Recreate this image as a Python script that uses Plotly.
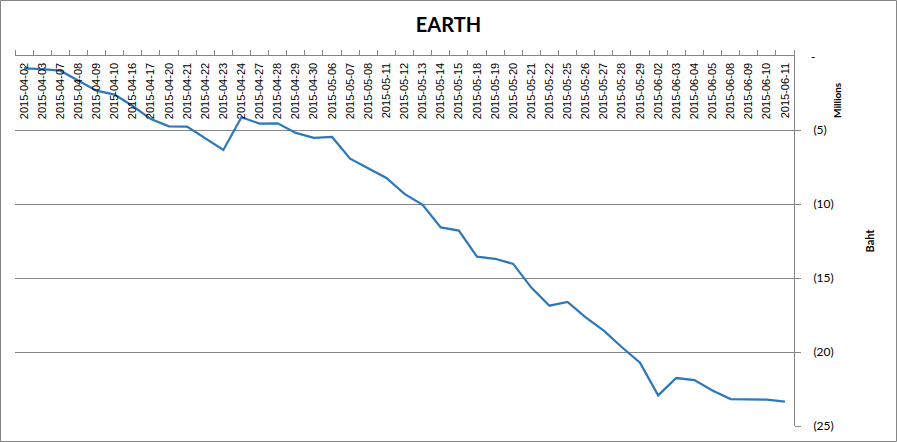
import plotly.graph_objects as go

dates = ["2015-04-02","2015-04-03","2015-04-07","2015-04-08","2015-04-09","2015-04-10",
         "2015-04-16","2015-04-17","2015-04-20","2015-04-21","2015-04-22","2015-04-23",
         "2015-04-24","2015-04-27","2015-04-28","2015-04-29","2015-04-30","2015-05-06",
         "2015-05-07","2015-05-08","2015-05-11","2015-05-12","2015-05-13","2015-05-14",
         "2015-05-15","2015-05-18","2015-05-19","2015-05-20","2015-05-21","2015-05-22",
         "2015-05-25","2015-05-26","2015-05-27","2015-05-28","2015-05-29","2015-06-02",
         "2015-06-03","2015-06-04","2015-06-05","2015-06-08","2015-06-09","2015-06-10",
         "2015-06-11"]
baht_millions = [-0.83,-0.88,-0.99,-1.69,-2.34,-2.61,-3.38,-4.26,-4.75,-4.77,-5.55,-6.35,
                 -4.14,-4.57,-4.55,-5.2,-5.53,-5.47,-6.94,-7.59,-8.24,-9.32,-10.05,-11.58,
                 -11.8,-13.56,-13.7,-14.05,-15.65,-16.87,-16.62,-17.66,-18.56,-19.68,-20.72,
                 -22.93,-21.76,-21.9,-22.6,-23.18,-23.22,-23.22,-23.36]
y_tick_vals = [0, -5, -10, -15, -20, -25]
y_tick_text = ["-", "(5)", "(10)", "(15)", "(20)", "(25)"]

W, H = 897, 442
L, R, T, B = 15, 794, 56, 426

fig = go.Figure(go.Scatter(x=dates, y=baht_millions, mode="lines",
                           line=dict(color="#2E78BA", width=2.25)))

def px(x):
    return (x - L) / (R - L)

def py(y):
    return (B - y) / (B - T)

tick_font = dict(family="Lato, Arial", size=12, color="black")

# The top tick label ("-") sits where plotly hides labels next to the inside
# category labels, so it is drawn as an annotation at the same data value.
fig.add_annotation(text=y_tick_text[0], xref="paper", yref="y", x=px(809), y=y_tick_vals[0],
                   xanchor="left", yanchor="middle", showarrow=False, font=tick_font)

fig.update_layout(
    width=W, height=H,
    margin=dict(l=L, r=W - R, t=T, b=H - B, autoexpand=False),
    paper_bgcolor="white", plot_bgcolor="white",
    showlegend=False,
    title=dict(text="<b>EARTH</b>", x=0.5, xanchor="center", y=1 - 25 / H, yanchor="middle",
               font=dict(family="Lato, Arial", size=20, color="black")),
    xaxis=dict(type="category", side="top", range=[-0.5, len(dates) - 0.5],
               tickangle=-90, ticklabelposition="inside", automargin=False,
               tickfont=dict(family="Liberation Sans, Arial", size=11, color="black"),
               ticks="outside", ticklen=5, tickcolor="#868686", tickson="boundaries",
               showline=True, linecolor="#868686", linewidth=1,
               showgrid=False, zeroline=False),
    yaxis=dict(side="right", range=[-25, 0.0001], automargin=False,
               tickvals=y_tick_vals, ticktext=[""] + y_tick_text[1:],
               tickfont=tick_font, ticklabelstandoff=10, ticklabelposition="outside",
               ticks="outside", ticklen=6, tickcolor="#868686",
               showline=True, linecolor="#868686", linewidth=1,
               showgrid=True, gridcolor="#868686", gridwidth=1, zeroline=False,
               title=dict(text="<b>Baht</b>", standoff=33,
                          font=dict(family="Lato, Arial", size=11, color="black"))),
    shapes=[dict(type="rect", xref="paper", yref="paper",
                 x0=px(0.5), x1=px(W - 0.5), y0=py(H - 0.5), y1=py(0.5),
                 line=dict(color="#868686", width=1), fillcolor="rgba(0,0,0,0)",
                 layer="below")],
)
fig.add_annotation(text="<b>Millions</b>", xref="paper", yref="paper",
                   x=px(845), y=py(80), textangle=-90, showarrow=False,
                   font=dict(family="Lato, Arial", size=10, color="black"))

fig.write_html("out.html", config={"displayModeBar": False},
               post_script="document.body.style.margin='0';document.body.style.overflow='hidden';")
